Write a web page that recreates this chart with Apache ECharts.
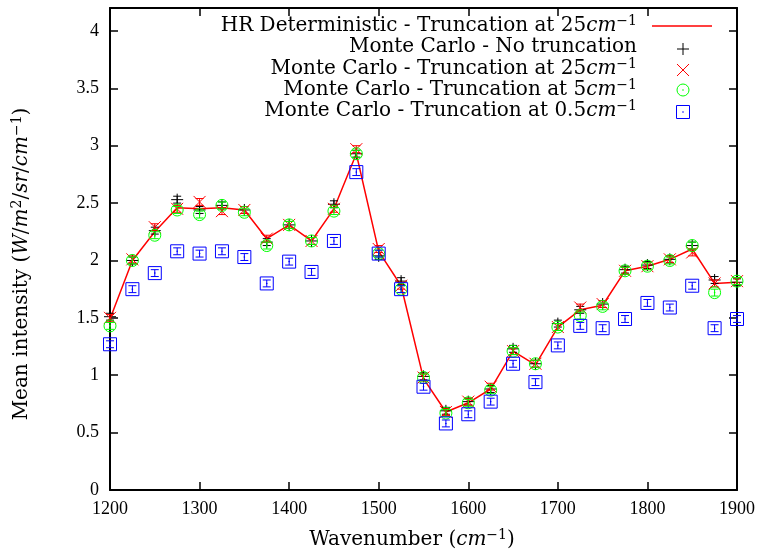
<!DOCTYPE html>
<html>
<head>
<meta charset="utf-8">
<script src="https://cdn.jsdelivr.net/npm/echarts@6/dist/echarts.min.js"></script>
<style>html,body{margin:0;padding:0;background:#fff}#c{width:764px;height:558px}</style>
</head>
<body>
<div id="c"></div>
<script>
// ---- data ----
const WAVENUMBERS = [1200,1225,1250,1275,1300,1325,1350,1375,1400,1425,1450,1475,1500,1525,1550,1575,1600,1625,1650,1675,1700,1725,1750,1775,1800,1825,1850,1875,1900];
const HR_DET_25   = [1.49,2.00,2.25,2.46,2.45,2.46,2.44,2.19,2.31,2.17,2.45,2.93,2.08,1.78,0.97,0.68,0.76,0.88,1.21,1.09,1.42,1.57,1.61,1.91,1.95,2.01,2.10,1.80,1.81];
const MC_NO_TRUNC = [1.51,2.00,2.26,2.53,2.44,2.48,2.44,2.16,2.31,2.17,2.49,2.93,2.04,1.82,0.99,0.69,0.77,0.88,1.23,1.10,1.45,1.57,1.62,1.92,1.96,2.01,2.13,1.83,1.81];
const MC_TRUNC_25 = [1.50,2.01,2.29,2.45,2.51,2.43,2.44,2.19,2.31,2.17,2.45,2.97,2.10,1.78,0.98,0.68,0.77,0.90,1.21,1.10,1.42,1.59,1.62,1.91,1.95,2.01,2.07,1.80,1.82];
const MC_TRUNC_5  = [1.43,2.00,2.22,2.44,2.40,2.48,2.42,2.13,2.31,2.17,2.43,2.93,2.06,1.75,0.98,0.67,0.76,0.87,1.21,1.10,1.42,1.52,1.60,1.91,1.95,2.00,2.13,1.72,1.82];
const MC_TRUNC_05 = [1.27,1.75,1.89,2.08,2.06,2.08,2.03,1.80,1.99,1.90,2.17,2.77,2.06,1.75,0.90,0.58,0.66,0.77,1.10,0.94,1.26,1.43,1.41,1.49,1.63,1.59,1.78,1.41,1.49];
// error bar half-widths (estimated)
const ERR_NO_TRUNC = [0.03,0.03,0.03,0.03,0.03,0.03,0.03,0.03,0.03,0.03,0.03,0.03,0.03,0.03,0.03,0.03,0.03,0.03,0.03,0.03,0.03,0.03,0.03,0.03,0.03,0.03,0.03,0.03,0.03];
const ERR_TRUNC_25 = [0.03,0.03,0.03,0.03,0.03,0.03,0.03,0.03,0.03,0.03,0.03,0.03,0.03,0.03,0.03,0.03,0.03,0.03,0.03,0.03,0.03,0.03,0.03,0.03,0.03,0.03,0.03,0.03,0.03];
const ERR_TRUNC_5  = [0.03,0.03,0.03,0.03,0.03,0.03,0.03,0.03,0.03,0.03,0.03,0.03,0.03,0.03,0.03,0.03,0.03,0.03,0.03,0.03,0.03,0.03,0.03,0.03,0.03,0.03,0.03,0.03,0.03];
const ERR_TRUNC_05 = [0.03,0.03,0.03,0.03,0.03,0.03,0.03,0.03,0.03,0.03,0.03,0.03,0.03,0.03,0.03,0.03,0.03,0.03,0.03,0.03,0.03,0.03,0.03,0.03,0.03,0.03,0.03,0.03,0.03];
const X_TICKS = [1200,1300,1400,1500,1600,1700,1800,1900];
const Y_TICKS = [0,0.5,1,1.5,2,2.5,3,3.5,4];
const LEGEND = [
  ['HR Deterministic - Truncation at 25', true],
  ['Monte Carlo - No truncation', false],
  ['Monte Carlo - Truncation at 25', true],
  ['Monte Carlo - Truncation at 5', true],
  ['Monte Carlo - Truncation at 0.5', true]
];

// ---- styling ----
const FONT = 'DejaVu Serif';
const TICKFONT = 'Liberation Serif';
const TXT = 20;
const RICH = {
  n: {fontFamily: FONT, fontSize: TXT, color: '#000'},
  i: {fontFamily: FONT, fontSize: TXT, fontStyle: 'italic', color: '#000'},
  s: {fontFamily: FONT, fontSize: 14, color: '#000', verticalAlign: 'top', padding: [0,0,9,0]}
};
const RED = '#ff0000', GREEN = '#00ff00', BLUE = '#0000ff', BLACK = '#000000';

function pairs(ys, es) { return WAVENUMBERS.map((x, i) => es ? [x, ys[i], es[i]] : [x, ys[i]]); }

function markerChildren(kind, color, cx, cy) {
  const s = {stroke: color, lineWidth: 1, fill: 'none'};
  if (kind === 'plus') return [
    {type: 'line', shape: {x1: cx - 6, y1: cy, x2: cx + 6, y2: cy}, style: s},
    {type: 'line', shape: {x1: cx, y1: cy - 6, x2: cx, y2: cy + 6}, style: s}];
  if (kind === 'cross') return [
    {type: 'line', shape: {x1: cx - 6, y1: cy - 6, x2: cx + 6, y2: cy + 6}, style: s},
    {type: 'line', shape: {x1: cx - 6, y1: cy + 6, x2: cx + 6, y2: cy - 6}, style: s}];
  if (kind === 'circle') return [
    {type: 'circle', shape: {cx: cx, cy: cy, r: 6}, style: s},
    {type: 'circle', shape: {cx: cx, cy: cy, r: 0.8}, style: {fill: color}}];
  return [
    {type: 'rect', shape: {x: cx - 6.5, y: cy - 6.5, width: 13, height: 13}, style: s},
    {type: 'circle', shape: {cx: cx, cy: cy, r: 0.8}, style: {fill: color}}];
}

function makeRender(kind, color) {
  return function (params, api) {
    const x = api.value(0), y = api.value(1), e = api.value(2);
    const p = api.coord([x, y]);
    const t = api.coord([x, y + e]);
    const b = api.coord([x, y - e]);
    const s = {stroke: color, lineWidth: 1};
    const ch = [
      {type: 'line', shape: {x1: p[0], y1: t[1], x2: p[0], y2: b[1]}, style: s},
      {type: 'line', shape: {x1: p[0] - 4, y1: t[1], x2: p[0] + 4, y2: t[1]}, style: s},
      {type: 'line', shape: {x1: p[0] - 4, y1: b[1], x2: p[0] + 4, y2: b[1]}, style: s}
    ].concat(markerChildren(kind, color, p[0], p[1]));
    return {type: 'group', children: ch};
  };
}

function customSeries(name, kind, color, ys, es, z) {
  return {
    name: name, type: 'custom', z: z,
    renderItem: makeRender(kind, color),
    encode: {x: 0, y: 1},
    data: pairs(ys, es),
    clip: false
  };
}

// legend and axis titles built as graphic
const textRowsY = [26, 47, 69, 90, 111];
const symRowsY = [26, 49, 70, 90, 112];
const textRight = 637, symX = 683;
const kinds = ['line', 'plus', 'cross', 'circle', 'square'];
const colors = [RED, BLACK, RED, GREEN, BLUE];
const graphics = [];
LEGEND.forEach((it, k) => {
  const txt = it[1] ? '{n|' + it[0] + '}{i|cm}{s|−1}' : '{n|' + it[0] + '}';
  graphics.push({
    type: 'text', x: textRight, y: textRowsY[k], z: 10,
    style: {text: txt, rich: RICH, align: 'right', verticalAlign: 'middle', font: TXT + 'px ' + FONT, fill: '#000'}
  });
  if (kinds[k] === 'line') {
    graphics.push({type: 'line', z: 10, shape: {x1: 652, y1: symRowsY[k], x2: 712, y2: symRowsY[k]}, style: {stroke: RED, lineWidth: 1.5}});
  } else {
    graphics.push({type: 'group', z: 10, x: symX, y: symRowsY[k], children: markerChildren(kinds[k], colors[k], 0, 0)});
  }
});
graphics.push({
  type: 'text', x: 412, y: 540, z: 10,
  style: {text: '{n|Wavenumber (}{i|cm}{s|−1}{n|)}', rich: RICH, align: 'center', verticalAlign: 'middle', font: TXT + 'px ' + FONT, fill: '#000'}
});
graphics.push({
  type: 'text', x: 22, y: 264, rotation: Math.PI / 2, z: 10,
  style: {text: '{n|Mean intensity (}{i|W}{n|/}{i|m}{s|2}{n|/}{i|sr}{n|/}{i|cm}{s|−1}{n|)}', rich: RICH, align: 'center', verticalAlign: 'middle', font: TXT + 'px ' + FONT, fill: '#000'}
});

const axisCommon = {
  type: 'value',
  axisLine: {show: true, onZero: false, lineStyle: {color: '#000', width: 2}},
  axisTick: {show: true, inside: true, length: 8, lineStyle: {color: '#000', width: 1.5}},
  splitLine: {show: false}
};

const option = {
  animation: false,
  backgroundColor: '#fff',
  grid: {left: 110, right: 27, top: 8, bottom: 68},
  xAxis: [
    Object.assign({}, axisCommon, {
      position: 'bottom', min: X_TICKS[0], max: X_TICKS[X_TICKS.length - 1], interval: 100,
      axisLabel: {color: '#000', fontFamily: TICKFONT, fontSize: 18, margin: 10, formatter: v => String(v)}
    }),
    Object.assign({}, axisCommon, {
      position: 'top', min: X_TICKS[0], max: X_TICKS[X_TICKS.length - 1], interval: 100,
      axisLabel: {show: false}
    })
  ],
  yAxis: [
    Object.assign({}, axisCommon, {
      position: 'left', min: Y_TICKS[0], max: 4.2, interval: 0.5,
      axisLabel: {color: '#000', fontFamily: TICKFONT, fontSize: 18, margin: 11, showMaxLabel: false, formatter: v => String(v)}
    }),
    Object.assign({}, axisCommon, {
      position: 'right', min: Y_TICKS[0], max: 4.2, interval: 0.5,
      axisLabel: {show: false}
    })
  ],
  series: [
    {name: 'HR Deterministic - Truncation at 25cm-1', type: 'line', data: pairs(HR_DET_25), symbol: 'none',
     lineStyle: {color: RED, width: 1.5}, z: 2},
    customSeries('Monte Carlo - No truncation', 'plus', BLACK, MC_NO_TRUNC, ERR_NO_TRUNC, 3),
    customSeries('Monte Carlo - Truncation at 25cm-1', 'cross', RED, MC_TRUNC_25, ERR_TRUNC_25, 4),
    customSeries('Monte Carlo - Truncation at 5cm-1', 'circle', GREEN, MC_TRUNC_5, ERR_TRUNC_5, 5),
    customSeries('Monte Carlo - Truncation at 0.5cm-1', 'square', BLUE, MC_TRUNC_05, ERR_TRUNC_05, 6)
  ],
  graphic: graphics
};

const chart = echarts.init(document.getElementById('c'), null, {renderer: 'canvas'});
chart.setOption(option);
</script>
</body>
</html>
